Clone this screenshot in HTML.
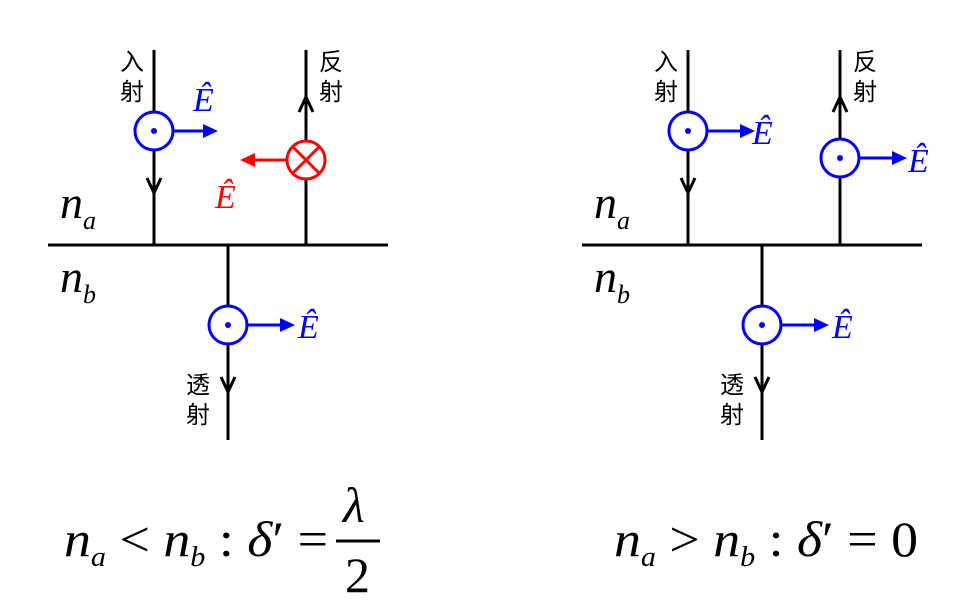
<!DOCTYPE html>
<html><head><meta charset="utf-8"><style>
body{margin:0;background:#fff}
.cj{font-family:"Noto Sans CJK SC","WenQuanYi Zen Hei",sans-serif;font-size:24px}
.it{font-style:italic}
</style></head><body>
<svg width="976" height="611" viewBox="0 0 976 611" xmlns="http://www.w3.org/2000/svg" font-family="'Liberation Serif', 'DejaVu Serif', serif">
<defs>
<g id="dot"><circle r="19" fill="#fff" stroke="#00f" stroke-width="3"/><circle r="3" fill="#00f"/></g>
</defs>
<g stroke="#000" stroke-width="3" fill="none">
<line x1="48" y1="245" x2="388" y2="245"/>
<line x1="154" y1="50" x2="154" y2="245"/>
<line x1="306" y1="50" x2="306" y2="245"/>
<line x1="228" y1="245" x2="228" y2="440"/>
<path d="M147,178 L154,193 L161,178"/>
<path d="M299,112 L306,97 L313,112"/>
<path d="M221,377 L228,392 L235,377"/>
<line x1="582" y1="245" x2="922" y2="245"/>
<line x1="688" y1="50" x2="688" y2="245"/>
<line x1="840" y1="50" x2="840" y2="245"/>
<line x1="762" y1="245" x2="762" y2="440"/>
<path d="M681,178 L688,193 L695,178"/>
<path d="M833,112 L840,97 L847,112"/>
<path d="M755,377 L762,392 L769,377"/>
</g>
<g stroke="#00f" stroke-width="3">
<line x1="173" y1="131" x2="203" y2="131"/><path d="M203,124 L218,131 L203,138z" fill="#00f" stroke="none"/>
<line x1="247" y1="325" x2="280" y2="325"/><path d="M280,318 L295,325 L280,332z" fill="#00f" stroke="none"/>
<line x1="707" y1="131" x2="740" y2="131"/><path d="M740,124 L755,131 L740,138z" fill="#00f" stroke="none"/>
<line x1="859" y1="158" x2="892" y2="158"/><path d="M892,151 L907,158 L892,165z" fill="#00f" stroke="none"/>
<line x1="781" y1="325" x2="814" y2="325"/><path d="M814,318 L829,325 L814,332z" fill="#00f" stroke="none"/>
</g>
<use href="#dot" x="154" y="131"/><use href="#dot" x="228" y="325"/>
<use href="#dot" x="688" y="131"/><use href="#dot" x="840" y="158"/><use href="#dot" x="762" y="325"/>
<g stroke="#f00" stroke-width="3" fill="#fff">
<circle cx="306" cy="160" r="19"/>
<line x1="293" y1="147" x2="319" y2="173"/><line x1="319" y1="147" x2="293" y2="173"/>
<line x1="287" y1="160" x2="255" y2="160"/>
</g>
<path d="M255,153 L240,160 L255,167z" fill="#f00"/>
<g class="it" font-size="34" fill="#00f">
<text x="193" y="111">Ê</text><text x="298" y="338">Ê</text>
<text x="752" y="144">Ê</text><text x="908" y="172">Ê</text><text x="832" y="338">Ê</text>
</g>
<text class="it" x="215" y="208" font-size="34" fill="#f00">Ê</text>
<g class="cj" fill="#000">
<text x="120" y="70">入</text><text x="120" y="100">射</text>
<text x="319" y="70">反</text><text x="319" y="100">射</text>
<text x="186" y="393">透</text><text x="186" y="423">射</text>
<text x="654" y="70">入</text><text x="654" y="100">射</text>
<text x="853" y="70">反</text><text x="853" y="100">射</text>
<text x="720" y="393">透</text><text x="720" y="423">射</text>
</g>
<g class="it" fill="#000">
<text x="60" y="218" font-size="46">n<tspan font-size="26" dy="11">a</tspan></text>
<text x="60" y="292" font-size="46">n<tspan font-size="26" dy="11">b</tspan></text>
<text x="594" y="218" font-size="46">n<tspan font-size="26" dy="11">a</tspan></text>
<text x="594" y="292" font-size="46">n<tspan font-size="26" dy="11">b</tspan></text>
</g>
<g font-size="50" fill="#000">
<text x="64" y="556" textLength="264" lengthAdjust="spacingAndGlyphs"><tspan class="it">n</tspan><tspan class="it" font-size="28" dy="10">a</tspan><tspan dy="-10"> &lt; </tspan><tspan class="it">n</tspan><tspan class="it" font-size="28" dy="10">b</tspan><tspan dy="-10"> : </tspan><tspan class="it">δ</tspan>′ =</text>
<text x="343" y="522" class="it">λ</text>
<line x1="336" y1="541" x2="380" y2="541" stroke="#000" stroke-width="3"/>
<text x="345" y="592">2</text>
<text x="614" y="556" textLength="304" lengthAdjust="spacingAndGlyphs"><tspan class="it">n</tspan><tspan class="it" font-size="28" dy="10">a</tspan><tspan dy="-10"> &gt; </tspan><tspan class="it">n</tspan><tspan class="it" font-size="28" dy="10">b</tspan><tspan dy="-10"> : </tspan><tspan class="it">δ</tspan>′ = 0</text>
</g>
</svg>
</body></html>
